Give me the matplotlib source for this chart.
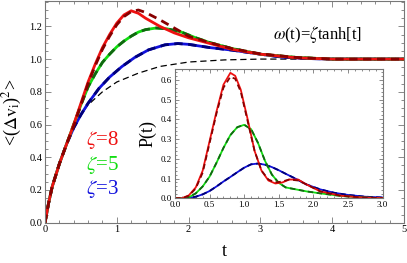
import numpy as np
import matplotlib
matplotlib.use("Agg")
import matplotlib.pyplot as plt
from matplotlib.ticker import MultipleLocator

plt.rcParams['font.family'] = ['Liberation Serif', 'DejaVu Serif']
plt.rcParams['mathtext.fontset'] = 'stix'

# main panel: <(dv_i)^2> versus t
t_red = [0, 0.05, 0.1, 0.2, 0.3, 0.4, 0.5, 0.6, 0.7, 0.8, 0.9, 1.0, 1.1, 1.2, 1.3, 1.4, 1.6, 1.8, 2.0,
         2.3, 2.6, 3.0, 3.5, 4.0, 5.0]
v_red = [0, 0.12, 0.22, 0.36, 0.48, 0.60, 0.73, 0.86, 0.97, 1.07, 1.15, 1.22, 1.27, 1.295, 1.28, 1.25,
         1.20, 1.16, 1.13, 1.095, 1.06, 1.03, 1.008, 1.0, 1.0]
v_red_dash = [0, 0.12, 0.22, 0.36, 0.48, 0.59, 0.72, 0.85, 0.96, 1.06, 1.14, 1.21, 1.26, 1.29, 1.30, 1.285,
              1.24, 1.19, 1.14, 1.10, 1.065, 1.032, 1.01, 1.0, 1.0]

t_green = [0, 0.05, 0.1, 0.2, 0.3, 0.4, 0.5, 0.6, 0.7, 0.8, 0.9, 1.0, 1.1, 1.2, 1.3, 1.4, 1.55, 1.7, 1.9,
           2.1, 2.3, 2.6, 3.0, 3.5, 4.0, 5.0]
v_green = [0, 0.12, 0.22, 0.36, 0.48, 0.60, 0.72, 0.83, 0.91, 0.98, 1.03, 1.075, 1.11, 1.14, 1.165, 1.18,
           1.19, 1.185, 1.165, 1.13, 1.10, 1.065, 1.03, 1.01, 1.0, 1.0]

t_blue = [0, 0.05, 0.1, 0.2, 0.3, 0.4, 0.5, 0.6, 0.75, 0.9, 1.07, 1.25, 1.44, 1.67, 1.85, 2.0, 2.3, 2.6,
          3.0, 3.3, 3.7, 4.0, 5.0]
v_blue = [0, 0.12, 0.22, 0.36, 0.48, 0.58, 0.66, 0.73, 0.82, 0.89, 0.954, 1.01, 1.056, 1.087, 1.095, 1.09,
          1.07, 1.055, 1.03, 1.012, 1.003, 1.0, 1.0]

t_ref = [0, 0.05, 0.1, 0.2, 0.3, 0.4, 0.5, 0.6, 0.8, 1.0, 1.3, 1.6, 2.0, 2.5, 3.0, 4.0, 5.0]
v_ref = [0, 0.12, 0.22, 0.36, 0.48, 0.58, 0.66, 0.72, 0.80, 0.86, 0.914, 0.955, 0.982, 0.995, 1.0, 1.0, 1.0]

# inset: P(t)
ti_red = [0, 0.1, 0.2, 0.3, 0.4, 0.5, 0.6, 0.7, 0.8, 0.87, 0.95, 1.05, 1.15, 1.25, 1.35, 1.45, 1.55,
          1.65, 1.78, 1.9, 2.1, 2.4, 2.7, 3.0]
p_red = [0, 0.0, 0.015, 0.055, 0.14, 0.29, 0.44, 0.575, 0.635, 0.62, 0.55, 0.40, 0.24, 0.14, 0.09, 0.075,
         0.08, 0.095, 0.095, 0.07, 0.035, 0.013, 0.004, 0.001]
p_red_dash = [0, 0.0, 0.013, 0.05, 0.13, 0.28, 0.43, 0.56, 0.615, 0.605, 0.54, 0.39, 0.24, 0.14, 0.095,
              0.08, 0.085, 0.095, 0.09, 0.07, 0.035, 0.013, 0.004, 0.001]

ti_green = [0, 0.1, 0.2, 0.3, 0.4, 0.5, 0.6, 0.7, 0.8, 0.9, 1.0, 1.1, 1.2, 1.3, 1.4, 1.5, 1.6, 1.75, 1.9,
            2.1, 2.4, 2.7, 3.0]
p_green = [0, 0.0, 0.005, 0.025, 0.06, 0.11, 0.18, 0.255, 0.32, 0.36, 0.372, 0.35, 0.28, 0.19, 0.12,
           0.078, 0.055, 0.045, 0.035, 0.025, 0.012, 0.004, 0.001]

ti_blue = [0, 0.2, 0.3, 0.4, 0.5, 0.6, 0.7, 0.8, 0.9, 1.0, 1.1, 1.2, 1.3, 1.4, 1.5, 1.6, 1.75, 1.9, 2.1,
           2.3, 2.5, 2.75, 3.0]
p_blue = [0, 0.002, 0.008, 0.02, 0.037, 0.06, 0.085, 0.108, 0.132, 0.155, 0.172, 0.176, 0.17, 0.158,
          0.142, 0.124, 0.098, 0.07, 0.045, 0.028, 0.017, 0.008, 0.004]

zeta_labels = ["$\\zeta$=8", "$\\zeta$=5", "$\\zeta$=3"]

RED, GREEN, BLUE = '#ee1111', '#11dd11', '#1111dd'
DRED, DGREEN, DBLUE = '#880000', '#116611', '#000077'
FRAME = '#777777'


def style_axes(ax, xmaj, xmin, ymaj, ymin, fs, lmaj, lmin):
    for s in ax.spines.values():
        s.set_color(FRAME)
        s.set_linewidth(0.8)
    ax.xaxis.set_major_locator(MultipleLocator(xmaj))
    ax.xaxis.set_minor_locator(MultipleLocator(xmin))
    ax.yaxis.set_major_locator(MultipleLocator(ymaj))
    ax.yaxis.set_minor_locator(MultipleLocator(ymin))
    ax.tick_params(which='both', direction='in', top=True, right=True, color=FRAME,
                   labelsize=fs, pad=2, width=0.6)
    ax.tick_params(which='major', length=lmaj)
    ax.tick_params(which='minor', length=lmin)


fig = plt.figure(figsize=(4.07, 2.63), dpi=100)
ax = fig.add_axes([0.1106, 0.1532, 0.882, 0.843])

ax.plot(t_ref, v_ref, color='black', lw=0.9, dashes=(5, 3))
ax.plot(t_blue, v_blue, color=BLUE, lw=2.0)
ax.plot(t_blue, v_blue, color=DBLUE, lw=2.0, dashes=(3, 2))
ax.plot(t_green, v_green, color=GREEN, lw=2.0)
ax.plot(t_green, v_green, color=DGREEN, lw=2.0, dashes=(3, 2))
ax.plot(t_red, v_red, color=RED, lw=2.0)
ax.plot(t_red, v_red_dash, color=DRED, lw=2.0, dashes=(3, 2))

ax.set_xlim(0, 5)
ax.set_ylim(0, 1.355)
style_axes(ax, 1, 0.2, 0.2, 0.05, 7.5, 4, 2)
ax.xaxis.set_major_formatter(plt.FuncFormatter(lambda x, p: f"{x:.0f}"))
ax.yaxis.set_major_formatter(plt.FuncFormatter(lambda x, p: f"{x:.1f}"))

ax.set_xlabel("t", fontsize=13, labelpad=6)
ax.set_ylabel(r"<($\mathrm{\Delta v_{i}}$)$^{2}$>", fontsize=13, labelpad=4)

ax.text(0.76, 0.85, r"$\omega$(t)=$\zeta$tanh[t]", transform=ax.transAxes,
        fontsize=12, ha='center', va='center')

for lbl, col, yy in zip(zeta_labels, [RED, GREEN, BLUE], [0.372, 0.26, 0.15]):
    ax.text(0.16, yy, lbl, transform=ax.transAxes, color=col, fontsize=15,
            ha='center', va='center')

# inset
ins = fig.add_axes([0.430, 0.246, 0.510, 0.492])
ins.plot(ti_blue, p_blue, color=BLUE, lw=1.3)
ins.plot(ti_blue, p_blue, color=DBLUE, lw=1.3, dashes=(3, 2))
ins.plot(ti_green, p_green, color=GREEN, lw=1.3)
ins.plot(ti_green, p_green, color=DGREEN, lw=1.3, dashes=(3, 2))
ins.plot(ti_red, p_red, color=RED, lw=1.3)
ins.plot(ti_red, p_red_dash, color=DRED, lw=1.3, dashes=(3, 2))
ins.set_xlim(0, 3)
ins.set_ylim(0, 0.655)
style_axes(ins, 0.5, 0.1, 0.1, 0.02, 6.5, 3, 1.5)
ins.xaxis.set_major_formatter(plt.FuncFormatter(lambda x, p: f"{x:.1f}"))
ins.yaxis.set_major_formatter(plt.FuncFormatter(lambda x, p: f"{x:.1f}"))
ins.set_ylabel("P(t)", fontsize=13, labelpad=3)

fig.savefig("out.png", dpi=100)
